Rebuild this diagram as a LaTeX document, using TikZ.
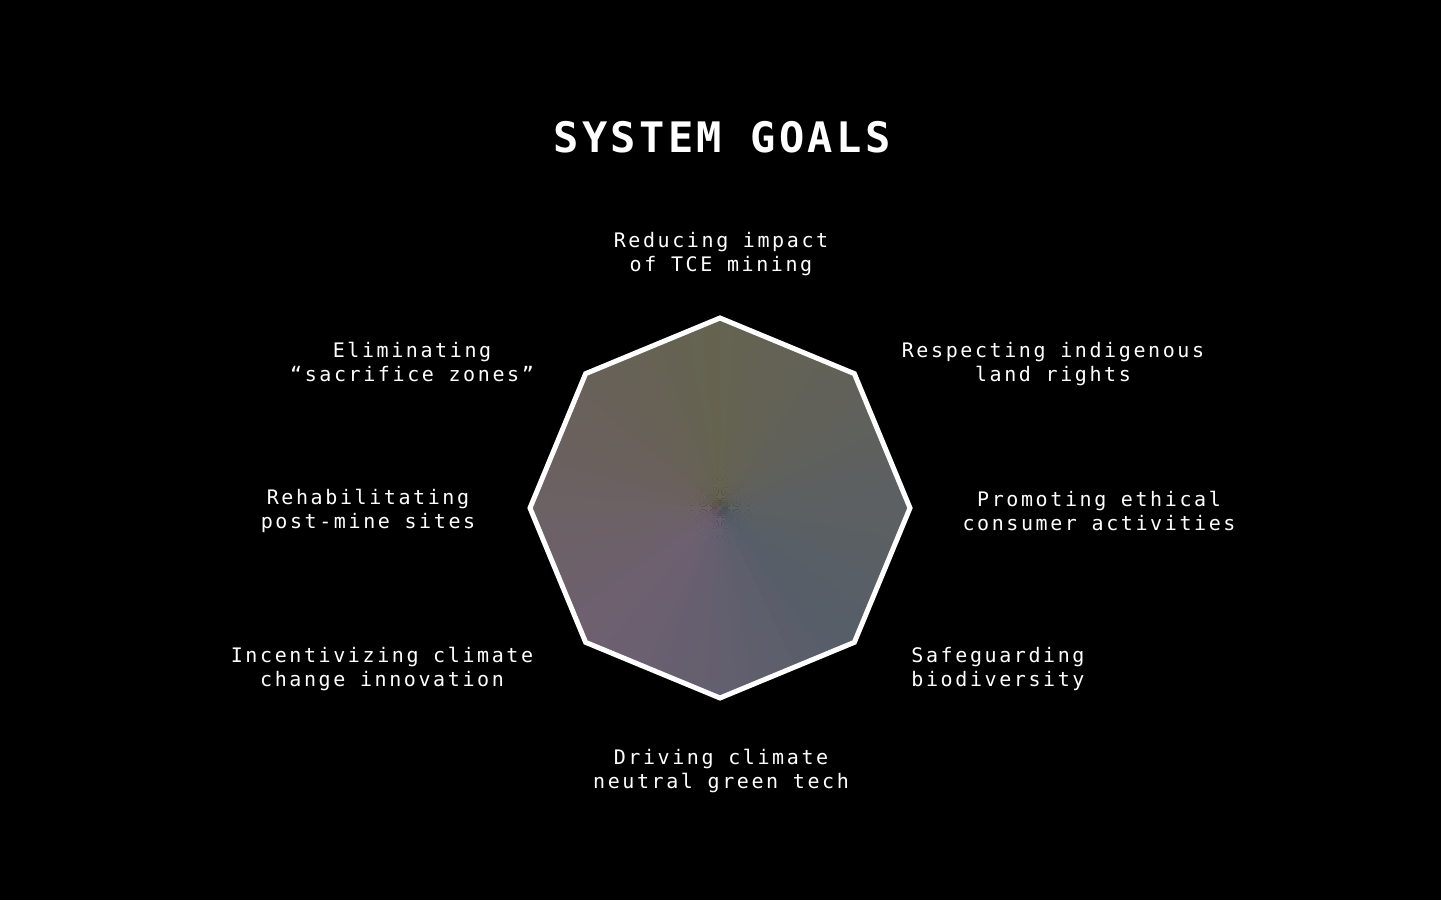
\documentclass[tikz,border=0pt]{standalone}
\usepackage{fontspec}
\newfontfamily\labfont[LetterSpace=13]{DejaVu Sans Mono}
\newfontfamily\titfont[LetterSpace=8]{DejaVu Sans Mono}
\definecolor{g0}{RGB}{101,99,80}
\definecolor{g1}{RGB}{97,97,90}
\definecolor{g2}{RGB}{92,96,98}
\definecolor{g3}{RGB}{86,94,104}
\definecolor{g4}{RGB}{99,95,110}
\definecolor{g5}{RGB}{110,96,112}
\definecolor{g6}{RGB}{108,97,100}
\definecolor{g7}{RGB}{104,97,88}
\tikzset{
  goal/.style={text=white, align=center, font=\labfont\fontsize{20}{24}\selectfont},
  title/.style={text=white, font=\titfont\bfseries\fontsize{42}{48}\selectfont},
  rim/.style={draw=white, line width=5pt, line join=miter}
}
\begin{document}
\begin{tikzpicture}[x=1pt,y=1pt]
\useasboundingbox (0,0) rectangle (1441,900);
\fill[black] (0,0) rectangle (1441,900);
\coordinate (C) at (720,392);
\foreach \k in {0,...,7} {
  \coordinate (v\k) at ([shift={({90-\k*45}:190)}]C);
}
\begin{scope}
  \clip (v0) -- (v1) -- (v2) -- (v3) -- (v4) -- (v5) -- (v6) -- (v7) -- cycle;
  \foreach \i/\ca/\cb in {0/g0/g1,1/g1/g2,2/g2/g3,3/g3/g4,4/g4/g5,5/g5/g6,6/g6/g7,7/g7/g0} {
    \foreach \j in {0,...,8} {
      \pgfmathtruncatemacro\p{100-(\j+0.5)*100/9}
      \pgfmathsetmacro\aa{90-\i*45-\j*5+0.3}
      \pgfmathsetmacro\ab{\aa-5.6}
      \fill[fill=\ca!\p!\cb] (C) -- ([shift={(\aa:260)}]C) -- ([shift={(\ab:260)}]C) -- cycle;
    }
  }
\end{scope}
\draw[rim] (v0) -- (v1) -- (v2) -- (v3) -- (v4) -- (v5) -- (v6) -- (v7) -- cycle;
\node[title] (ttl) at (722,763) {SYSTEM GOALS};
\node[goal] (t) at (721,646) {Reducing impact\\of TCE mining};
\node[goal] (ur) at (1053,536) {Respecting indigenous\\land rights};
\node[goal] (r) at (1099,389) {Promoting ethical\\consumer activities};
\node[goal] (lr) at (998,231) {Safeguarding\\biodiversity};
\node[goal] (b) at (721,129) {Driving climate\\neutral green tech};
\node[goal] (ll) at (382,231) {Incentivizing climate\\change innovation};
\node[goal] (l) at (368,389) {Rehabilitating\\post-mine sites};
\node[goal] (ul) at (412,538) {Eliminating\\“sacrifice zones”};
\end{tikzpicture}
\end{document}
